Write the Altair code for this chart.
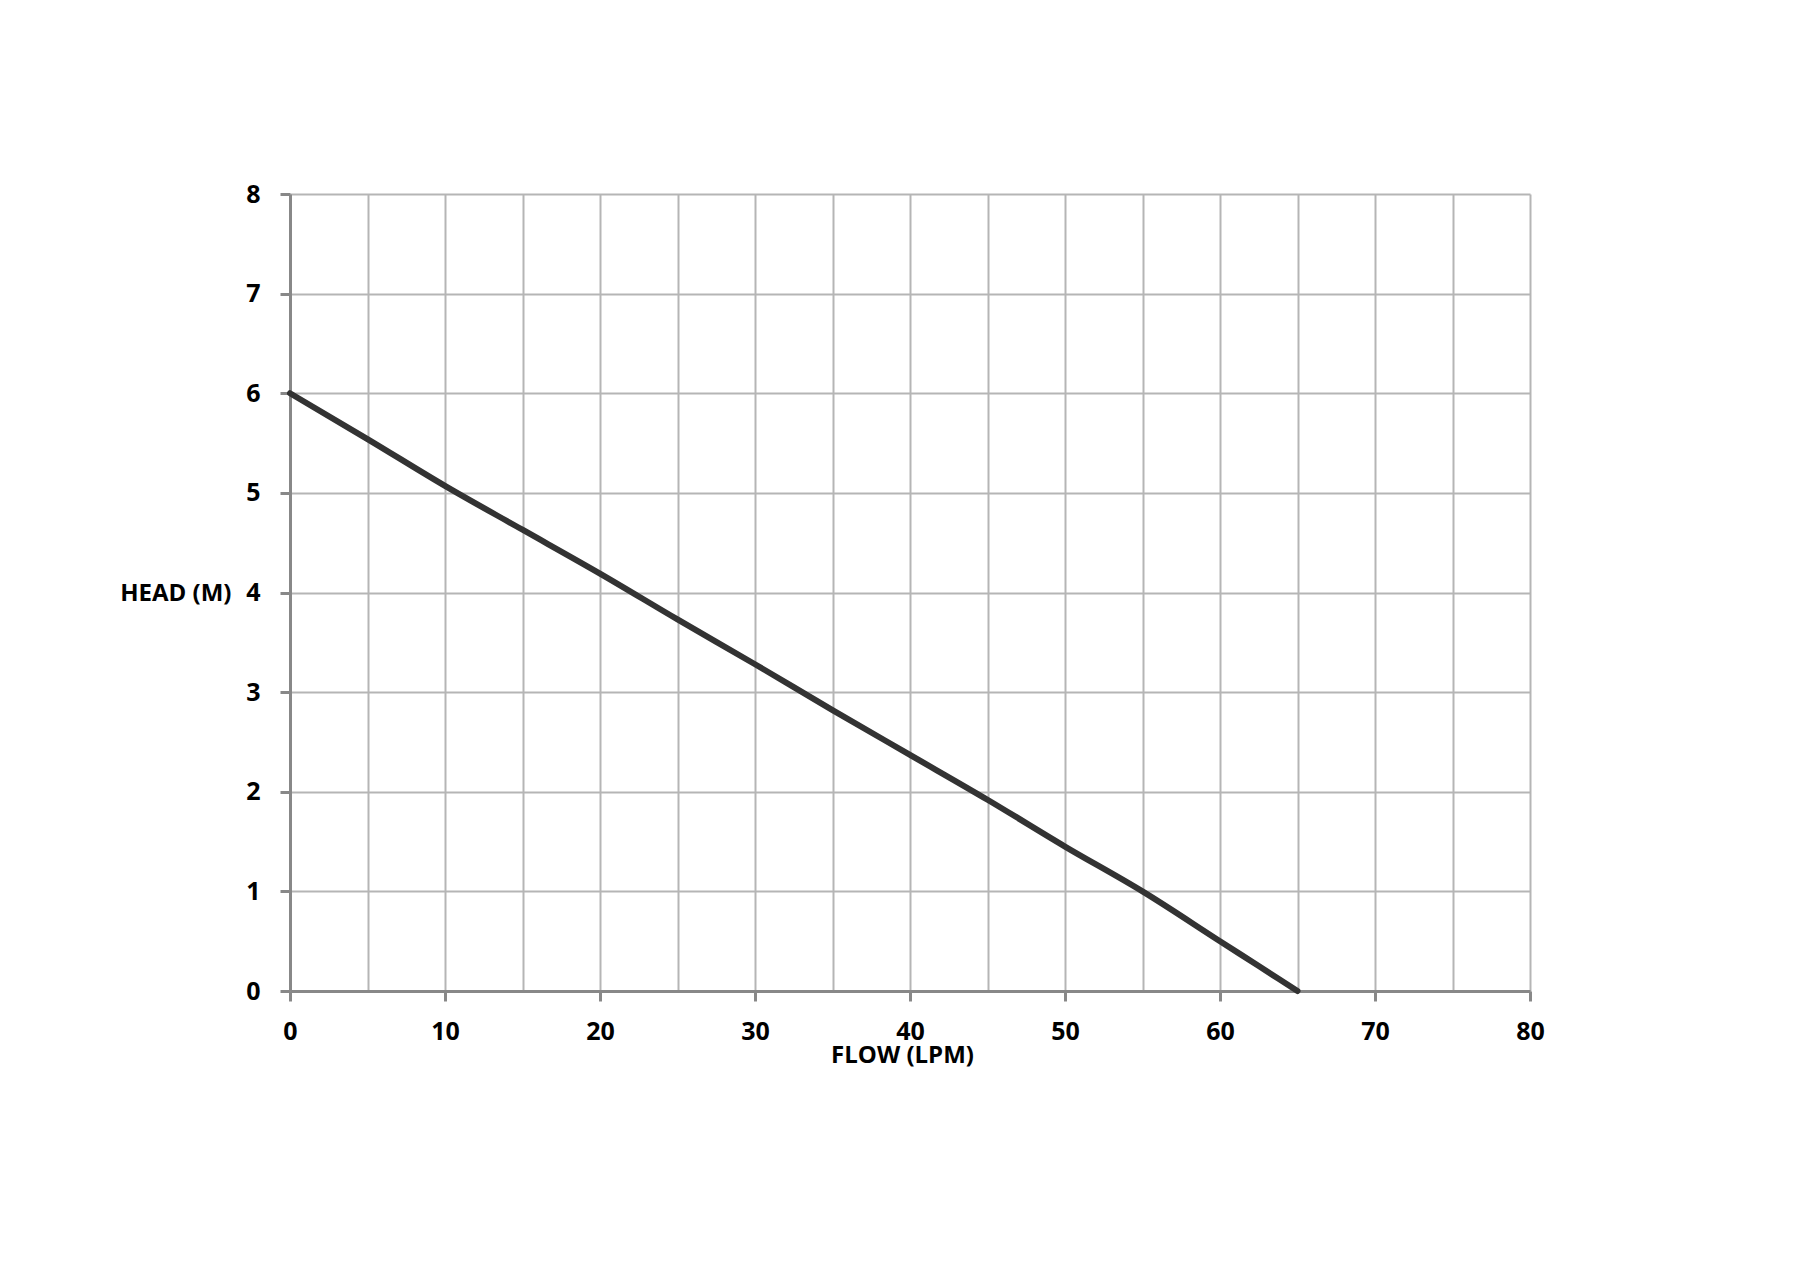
import altair as alt
import pandas as pd

flow = [0, 5, 10, 15, 20, 25, 30, 35, 40, 45, 50, 55, 60, 62.5, 65]
head = [6.0, 5.54, 5.07, 4.63, 4.19, 3.73, 3.28, 2.82, 2.37, 1.92, 1.45, 1.0, 0.50, 0.25, 0.0]
x_grid = list(range(0, 81, 5))
y_grid = list(range(0, 9, 1))

df = pd.DataFrame({"flow": flow, "head": head})

FONT = "Open Sans"

chart = alt.Chart(df).mark_line(color="#333333", strokeWidth=6, strokeCap="round",
                                interpolate="monotone").encode(
    x=alt.X("flow:Q", scale=alt.Scale(domain=[0, 80], nice=False, zero=False),
            axis=alt.Axis(values=x_grid, title="FLOW (LPM)",
                          labelExpr="datum.value % 10 === 0 ? datum.label : ''",
                          tickColor={"condition": {"test": "datum.value % 10 === 0", "value": "#888888"}, "value": "transparent"},
                          tickSize=10, tickWidth=3, labelFlush=False,
                          labelPadding=18, labelFontSize=25, labelFont=FONT, labelFontWeight="bold", labelColor="#000000",
                          titleFontSize=24, titleFont=FONT, titleFontWeight="bold", titleColor="#000000",
                          titleX=612, titleY=64, titleBaseline="middle", titleAnchor="middle",
                          domainColor="#888888", domainWidth=3,
                          grid=True, gridColor="#b5b5b5", gridWidth=2)),
    y=alt.Y("head:Q", scale=alt.Scale(domain=[0, 8], nice=False, zero=False),
            axis=alt.Axis(values=y_grid, title="HEAD (M)", format="d",
                          tickColor="#888888", tickSize=10, tickWidth=3, labelFlush=False,
                          labelPadding=20, labelFontSize=25, labelFont=FONT, labelFontWeight="bold", labelColor="#000000",
                          titleFontSize=24, titleFont=FONT, titleFontWeight="bold", titleColor="#000000",
                          titleAngle=0, titleAlign="right", titleBaseline="middle",
                          titleX=-59, titleY=399,
                          domainColor="#888888", domainWidth=3,
                          grid=True, gridColor="#b5b5b5", gridWidth=2)),
).properties(
    width=1240, height=797,
    autosize=alt.AutoSizeParams(type="none"),
    padding={"left": 282, "top": 186, "right": 270, "bottom": 270},
).configure_view(stroke=None)

chart.save("out.html", embed_options={"renderer": "svg", "actions": False})
